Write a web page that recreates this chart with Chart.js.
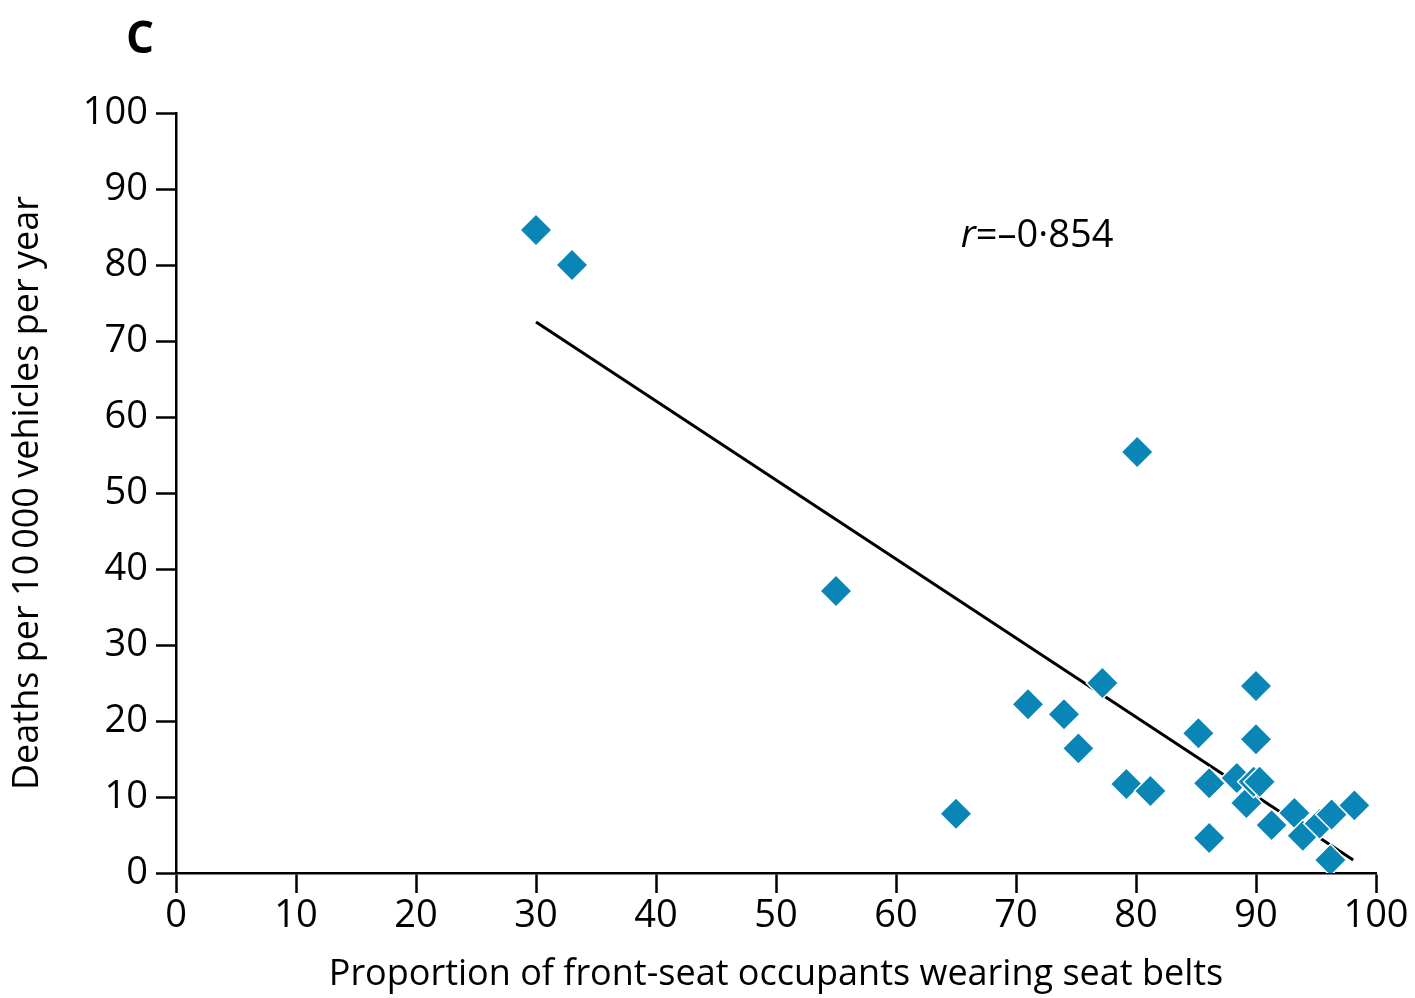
<!DOCTYPE html>
<html>
<head>
<meta charset="utf-8">
<script src="https://cdn.jsdelivr.net/npm/chart.js@4.4.1/dist/chart.umd.min.js"></script>
<style>
  html, body { margin: 0; padding: 0; background: #fff; }
  #wrap { width: 1415px; height: 998px; position: relative; }
</style>
</head>
<body>
<div id="wrap"><canvas id="grafico" width="1415" height="998"></canvas></div>
<script>
// Dados (proporção com cinto x mortes por 10 000 veículos)
const cintoX = [30, 33, 55, 65, 71, 74, 75.2, 77.2, 79.2, 81.2, 80.1, 85.2, 86.1, 86.1, 88.4, 89.2, 89.8, 90.3, 90, 90, 91.3, 93.2, 93.9, 95.3, 96.3, 96.2, 98.2];
const mortesY = [84.6, 80, 37.1, 7.8, 22.2, 20.9, 16.4, 25, 11.7, 10.8, 55.4, 18.4, 11.8, 4.6, 12.5, 9.2, 12, 12, 24.6, 17.6, 6.3, 7.9, 4.9, 6.5, 7.7, 1.7, 8.9];

// Reta de regressão (extremos)
const retaX = [30, 98.1];
const retaY = [72.5, 1.7];

const ticksEixo = [0, 10, 20, 30, 40, 50, 60, 70, 80, 90, 100];

const fonte = '"Open Sans", "Noto Sans", sans-serif';

const pontos = cintoX.map((x, i) => ({ x: x, y: mortesY[i] }));
const reta = retaX.map((x, i) => ({ x: x, y: retaY[i] }));

// Plugin simples para a letra do painel e o coeficiente r
const anotacoes = {
    id: 'anotacoes',
    afterDraw(chart) {
        const ctx = chart.ctx;
        ctx.save();
        ctx.fillStyle = '#000';
        ctx.font = 'bold 44px ' + fonte;
        ctx.textAlign = 'center';
        ctx.textBaseline = 'middle';
        ctx.fillText('C', 140, 40);

        const xs = chart.scales.x, ys = chart.scales.y;
        ctx.textBaseline = 'middle';
        ctx.textAlign = 'left';
        let px = xs.getPixelForValue(65.4);
        const py = ys.getPixelForValue(83.8);
        ctx.font = 'italic 38px ' + fonte;
        ctx.fillText('r', px, py);
        px += ctx.measureText('r').width;
        ctx.font = '38px ' + fonte;
        ctx.fillText('=\u20130\u00b7854', px, py);
        ctx.restore();
    }
};

const ctx = document.getElementById('grafico').getContext('2d');
new Chart(ctx, {
    type: 'scatter',
    data: {
        datasets: [
            {
                label: 'Países',
                data: pontos,
                pointStyle: 'rectRot',
                pointRadius: 16,
                pointHoverRadius: 16,
                backgroundColor: '#0a86b6',
                borderColor: '#ffffff',
                borderWidth: 1.5,
                order: 1
            },
            {
                label: 'Regressão',
                type: 'line',
                data: reta,
                borderColor: '#000',
                borderWidth: 3,
                pointRadius: 0,
                fill: false,
                order: 2
            }
        ]
    },
    options: {
        responsive: false,
        animation: false,
        layout: { padding: { top: 113, right: 39, left: 0, bottom: 0 } },
        plugins: {
            legend: { display: false },
            tooltip: { enabled: false }
        },
        scales: {
            x: {
                type: 'linear',
                min: 0,
                max: 100,
                afterBuildTicks: s => { s.ticks = ticksEixo.map(v => ({ value: v })); },
                afterFit: s => { s.height = 125; },
                border: { color: '#000', width: 2.5 },
                grid: { drawOnChartArea: false, tickLength: 20, tickColor: '#000', tickWidth: 2.5 },
                ticks: { color: '#000', font: { family: fonte, size: 38 }, padding: 0 },
                title: {
                    display: true,
                    text: 'Proportion of front-seat occupants wearing seat belts',
                    color: '#000',
                    font: { family: fonte, size: 36 },
                    padding: { top: 0, bottom: 2 }
                }
            },
            y: {
                type: 'linear',
                min: 0,
                max: 100,
                afterBuildTicks: s => { s.ticks = ticksEixo.map(v => ({ value: v })); },
                afterFit: s => { s.width = 176; },
                border: { color: '#000', width: 2.5 },
                grid: { drawOnChartArea: false, tickLength: 20, tickColor: '#000', tickWidth: 2.5 },
                ticks: { color: '#000', font: { family: fonte, size: 38 }, padding: 8 },
                title: {
                    display: true,
                    text: 'Deaths per 10\u2009000 vehicles per year',
                    color: '#000',
                    font: { family: fonte, size: 36 },
                    padding: { top: 6, bottom: 0 }
                }
            }
        }
    },
    plugins: [anotacoes]
});
</script>
</body>
</html>
